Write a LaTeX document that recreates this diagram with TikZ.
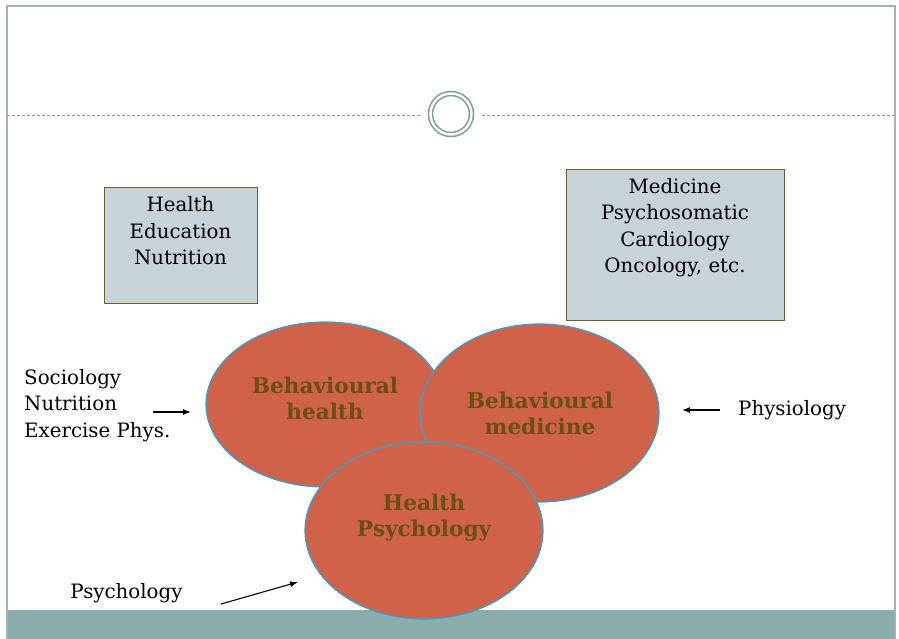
\documentclass[tikz,border=0pt]{standalone}
\usepackage{fontspec}
\setmainfont{DejaVu Serif}
\usetikzlibrary{arrows.meta,shapes.geometric}

\definecolor{frameline}{HTML}{9DB5B3}
\definecolor{bandfill}{HTML}{8AADAB}
\definecolor{ringline}{HTML}{7F9E9C}
\definecolor{boxfill}{HTML}{C7D2D9}
\definecolor{boxline}{HTML}{6F5E2E}
\definecolor{blobfill}{HTML}{D0624A}
\definecolor{blobline}{HTML}{2FA3D6}
\definecolor{blobtext}{HTML}{6B4F13}

\tikzset{
  txt/.style={inner sep=0pt, align=center, font=\fontsize{19.8}{26.5}\selectfont},
  infobox/.style={draw=boxline, fill=boxfill, line width=1.4pt, inner sep=0pt, anchor=north west},
  blob/.style={ellipse, draw=blobline, fill=blobfill, line width=1.2pt, inner sep=0pt},
  blobtxt/.style={inner sep=0pt, align=center, text=blobtext, font=\fontsize{21.6}{26}\selectfont\bfseries},
  arr/.style={-{Latex[length=8pt,width=6pt]}, line width=1.1pt},
}

\begin{document}
\begin{tikzpicture}[x=1pt,y=-1pt]
\useasboundingbox (0,0) rectangle (899,639);
\fill[white] (0,0) rectangle (899,639);

% slide frame and footer band
\fill[bandfill] (7,610) rectangle (895,639);
\draw[frameline, line width=1.6pt] (7,639) -- (7,6) -- (895,6) -- (895,639);

% title divider with ring ornament
\node[circle, draw=ringline, double=white, double distance=2.4pt, line width=1.6pt,
      minimum size=41pt, inner sep=0pt] (ring) at (451,114) {};
\coordinate (divL1) at (7,115);
\coordinate (divL2) at (420,115);
\coordinate (divR1) at (482,115);
\coordinate (divR2) at (895,115);
\draw[ringline, line width=0.8pt, dash pattern=on 3pt off 2pt] (divL1) -- (divL2);
\draw[ringline, line width=0.8pt, dash pattern=on 3pt off 2pt] (divR1) -- (divR2);

% grey information boxes
\node[infobox, minimum width=153pt, minimum height=116pt] (henbox) at (104,187) {};
\node[txt] (hentext) at (180.5,231) {Health\\Education\\Nutrition};

\node[infobox, minimum width=218pt, minimum height=151pt] (medbox) at (566,169) {};
\node[txt] (medtext) at (675,227.5) {Medicine\\Psychosomatic\\Cardiology\\Oncology, etc.};

% overlapping fields
\node[blob, minimum width=238pt, minimum height=165pt] (bh) at (325,404.5) {};
\node[blobtxt] (bhtext) at (325,398) {Behavioural\\health};

\node[blob, minimum width=239pt, minimum height=178pt] (bm) at (539.5,413) {};
\node[blobtxt] (bmtext) at (540,413) {Behavioural\\medicine};

\node[blob, minimum width=238pt, minimum height=177pt] (hp) at (424,530.5) {};
\node[blobtxt] (hptext) at (424,518) {Health\\Psychology};

% contributing disciplines
\node[txt, anchor=west, align=left] (soc) at (24,405.5) {Sociology\\Nutrition\\Exercise Phys.};
\coordinate (socA) at (153,412);
\coordinate (socB) at (191,412);
\draw[arr] (socA) -- (socB);

\node[txt, anchor=west] (phys) at (738,410) {Physiology};
\coordinate (physA) at (720,410);
\coordinate (physB) at (682,410);
\draw[arr] (physA) -- (physB);

\node[txt] (psy) at (126.5,593) {Psychology};
\coordinate (psyA) at (221,604);
\coordinate (psyB) at (298,582);
\draw[arr] (psyA) -- (psyB);
\end{tikzpicture}
\end{document}
